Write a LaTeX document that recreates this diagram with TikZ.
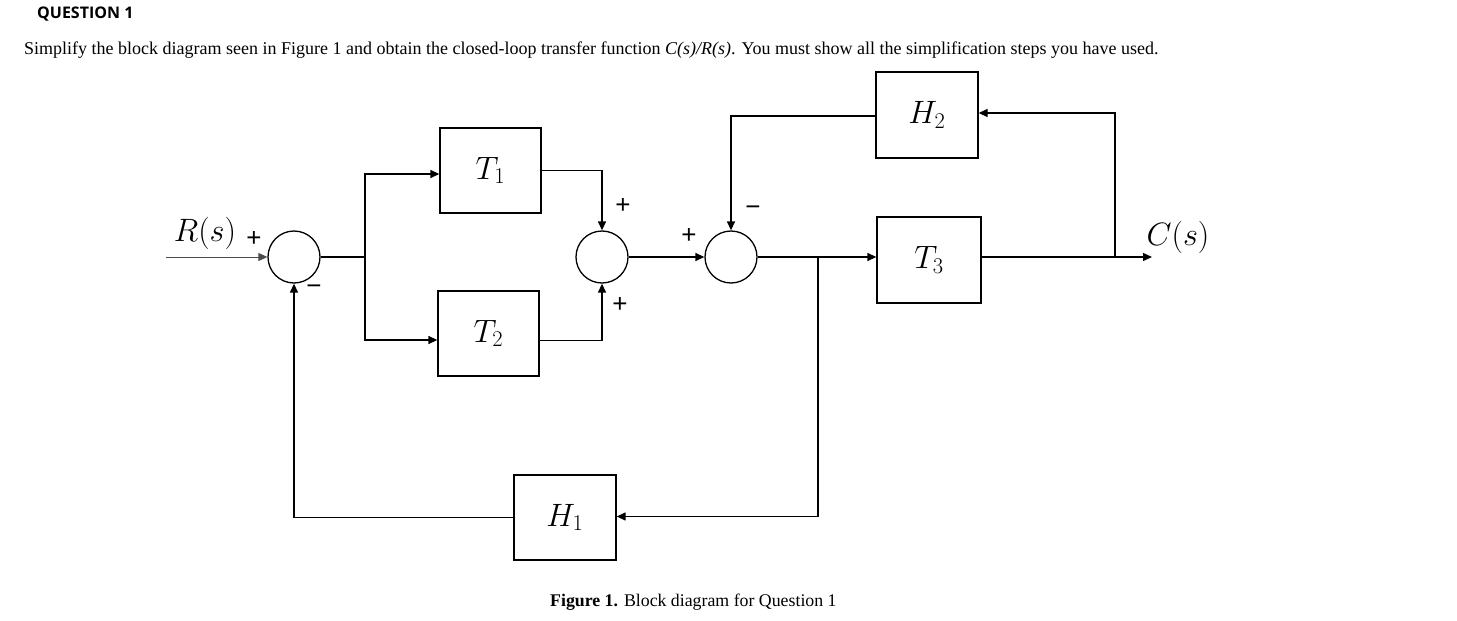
\documentclass[tikz,border=0pt]{standalone}
\usepackage{graphicx}
\usepackage{fontspec}
\setmainfont{Liberation Serif}
\newfontfamily\qfont{Open Sans}
\newfontfamily\signfont{Liberation Sans}
\usetikzlibrary{arrows.meta}
\newcommand{\blkmath}[1]{\scalebox{1.3}{$#1$}}
\tikzset{
  blk/.style={draw, line width=1.3pt, inner sep=0pt, font=\fontsize{24}{28}\selectfont},
  sumnode/.style={draw, circle, line width=1.3pt, minimum size=52pt, inner sep=0pt},
  wire/.style={line width=1.3pt},
  arr/.style={line width=1.3pt, -{Triangle[length=9pt,width=8pt]}},
  sign/.style={font=\signfont\fontsize{26}{28}\selectfont},
  lbl/.style={font=\fontsize{24}{28}\selectfont},
}
\begin{document}
\begin{tikzpicture}[x=1pt,y=-1pt]
\useasboundingbox (0,0) rectangle (1457,621);
% header texts
\node[anchor=west, inner sep=0pt, font=\qfont\bfseries\fontsize{16}{18}\selectfont] (q) at (37,14) {QUESTION 1};
\node[anchor=west, inner sep=0pt, font=\fontsize{18}{20}\selectfont] (txt) at (24,50) {Simplify the block diagram seen in Figure 1 and obtain the closed-loop transfer function \textit{C(s)/R(s)}. You must show all the simplification steps you have used.};
\node[anchor=west, inner sep=0pt, font=\fontsize{17.8}{20}\selectfont] (cap) at (550,602) {\textbf{Figure 1.} Block diagram for Question 1};
% blocks
\node[blk, minimum width=101pt, minimum height=85pt] (T1) at (490.5,170.5) {\blkmath{T_1}};
\node[blk, minimum width=101pt, minimum height=85pt] (T2) at (488.5,333.5) {\blkmath{T_2}};
\node[blk, minimum width=102pt, minimum height=86pt] (H2) at (927,115) {\blkmath{H_2}};
\node[blk, minimum width=104pt, minimum height=86pt] (T3) at (929,260) {\blkmath{T_3}};
\node[blk, minimum width=102pt, minimum height=85pt] (H1) at (565,517.5) {\blkmath{H_1}};
% summing junctions
\node[sumnode] (S1) at (294,257) {};
\node[sumnode] (S2) at (602,257) {};
\node[sumnode] (S3) at (731,257) {};
% coordinates
\coordinate (in) at (166,257);
\coordinate (b1) at (365,257);
\coordinate (b2) at (818,257);
\coordinate (b3) at (1115,257);
\coordinate (out) at (1152,257);
% connectors
\draw[arr, line width=1pt, draw=black!70] (in) -- (S1.west);
\draw[wire] (S1.east) -- (b1);
\draw[arr] (b1) |- ([yshift=-3.5pt]T1.west);
\draw[arr] (b1) |- ([yshift=-6.5pt]T2.west);
\draw[arr] (T1.east) -| (S2.north);
\draw[arr] ([yshift=-7pt]T2.east) -| (S2.south);
\draw[arr] (S2.east) -- (S3.west);
\draw[arr] ([yshift=-1pt]H2.west) -| (S3.north);
\draw[arr] (S3.east) -- (S3.east -| T3.west);
\draw[wire] (T3.east |- out) -- (b3);
\draw[arr] (b3) -- (out);
\draw[arr] (b3) |- ([yshift=2pt]H2.east);
\draw[arr] (b2) |- ([yshift=1pt]H1.east);
\draw[arr] (H1.west) -| (S1.south);
% labels
\node[lbl] (Rs) at (205,233) {\blkmath{R(s)}};
\node[lbl] (Cs) at (1178,237) {\blkmath{C(s)}};
\node[sign] (p1) at (254,239) {+};
\node[sign] (m1) at (314,290) {−};
\node[sign] (p2) at (623,206) {+};
\node[sign] (p3) at (620,305) {+};
\node[sign] (p4) at (689,236) {+};
\node[sign] (m3) at (753,211) {−};
\end{tikzpicture}
\end{document}
